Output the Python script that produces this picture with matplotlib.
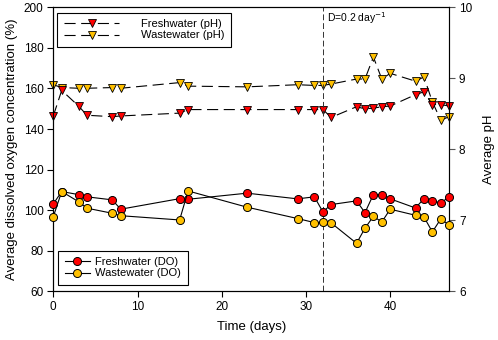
import matplotlib
matplotlib.use("Agg")
import matplotlib.pyplot as plt
import numpy as np

plt.rcParams['font.family'] = ['Liberation Sans', 'DejaVu Sans']

# sampling days
days = [0, 1, 3, 4, 7, 8, 15, 16, 23, 29, 31, 32, 33, 36, 37, 38, 39, 40, 43, 44, 45, 46, 47]

# dissolved oxygen (%)
fresh_do = [103.1, 109.2, 107.7, 106.6, 105.1, 100.5, 105.7, 105.4, 108.4,
            105.6, 106.6, 99.2, 102.8, 104.6, 98.8, 107.7, 107.7, 105.6,
            101.1, 105.7, 104.6, 103.6, 106.6]
waste_do = [96.8, 109.2, 104.2, 101.0, 98.5, 97.3, 95.2, 109.5, 101.5,
            95.9, 93.9, 94.1, 93.7, 83.7, 91.1, 97.0, 94.2, 100.5,
            97.5, 96.7, 89.3, 95.7, 92.7]

# pH
fresh_ph = [8.47, 8.83, 8.61, 8.48, 8.46, 8.47, 8.51, 8.56, 8.56,
            8.56, 8.56, 8.56, 8.45, 8.60, 8.57, 8.58, 8.60, 8.61,
            8.77, 8.81, 8.63, 8.63, 8.61]
waste_ph = [8.91, 8.87, 8.86, 8.86, 8.87, 8.86, 8.94, 8.89, 8.88,
            8.91, 8.90, 8.90, 8.92, 8.99, 8.99, 9.30, 8.99, 9.07,
            8.96, 9.02, 8.67, 8.41, 8.46]

red = '#ff0000'
gold = '#ffc000'

fig = plt.figure(figsize=(4.98, 3.40), dpi=100)
ax = fig.add_axes([0.107, 0.143, 0.795, 0.8355])
ax2 = ax.twinx()

# DO lines (left axis)
l1, = ax.plot(days, fresh_do, '-', color='black', lw=0.8, marker='o', ms=5.8,
              mfc=red, mec='black', mew=0.7, label='Freshwater (DO)', zorder=3, clip_on=False)
l2, = ax.plot(days, waste_do, '-', color='black', lw=0.8, marker='o', ms=5.8,
              mfc=gold, mec='black', mew=0.7, label='Wastewater (DO)', zorder=4, clip_on=False)

# pH lines (right axis)
p2, = ax2.plot(days, waste_ph, color='black', lw=0.8, dashes=(10, 5), marker='v', ms=5.5,
               mfc=gold, mec='black', mew=0.6, label='Wastewater (pH)', zorder=3, clip_on=False)
p1, = ax2.plot(days, fresh_ph, color='black', lw=0.8, dashes=(10, 5), marker='v', ms=5.5,
               mfc=red, mec='black', mew=0.6, label='Freshwater (pH)', zorder=4, clip_on=False)

ax.axvline(32, color='#333333', lw=0.7, dashes=(6, 3))
ax.text(32.5, 194.5, 'D=0.2 day$^{-1}$', fontsize=7.5, va='center', ha='left')

ax.set_xlim(0, 47)
ax.set_ylim(60, 200)
ax2.set_ylim(6, 10)
ax.set_xticks([0, 10, 20, 30, 40])
ax.set_yticks(np.arange(60, 201, 20))
ax2.set_yticks([6, 7, 8, 9, 10])

ax.set_xlabel('Time (days)', fontsize=9.5, labelpad=6)
ax.set_ylabel('Average dissolved oxygen concentration (%)', fontsize=9.5, labelpad=4)
ax2.set_ylabel('Average pH', fontsize=9.5, labelpad=8)

for a in (ax, ax2):
    a.tick_params(direction='out', length=4, width=0.8, labelsize=8.5, pad=3)
    for s in a.spines.values():
        s.set_linewidth(0.8)
ax2.spines['right'].set_color('#555555')
ax2.tick_params(colors='#555555', labelcolor='black')

leg1 = ax2.legend(handles=[p1, p2], loc='upper left', bbox_to_anchor=(0.01, 0.981),
                  borderaxespad=0, fontsize=8, frameon=True, fancybox=False,
                  edgecolor='black', framealpha=1, handlelength=5, handletextpad=1.9,
                  labelspacing=0.1, borderpad=0.6, numpoints=1)
leg1.get_frame().set_linewidth(0.8)
leg2 = ax.legend(handles=[l1, l2], loc='lower left', bbox_to_anchor=(0.0126, 0.022),
                 borderaxespad=0, fontsize=8, frameon=True, fancybox=False,
                 edgecolor='black', framealpha=1, handlelength=2.25, handletextpad=0.5,
                 labelspacing=0.1, borderpad=0.6, numpoints=1)
leg2.get_frame().set_linewidth(0.8)
ax.set_zorder(ax2.get_zorder() + 1)
ax.patch.set_visible(False)

fig.savefig('out.png', dpi=100)
